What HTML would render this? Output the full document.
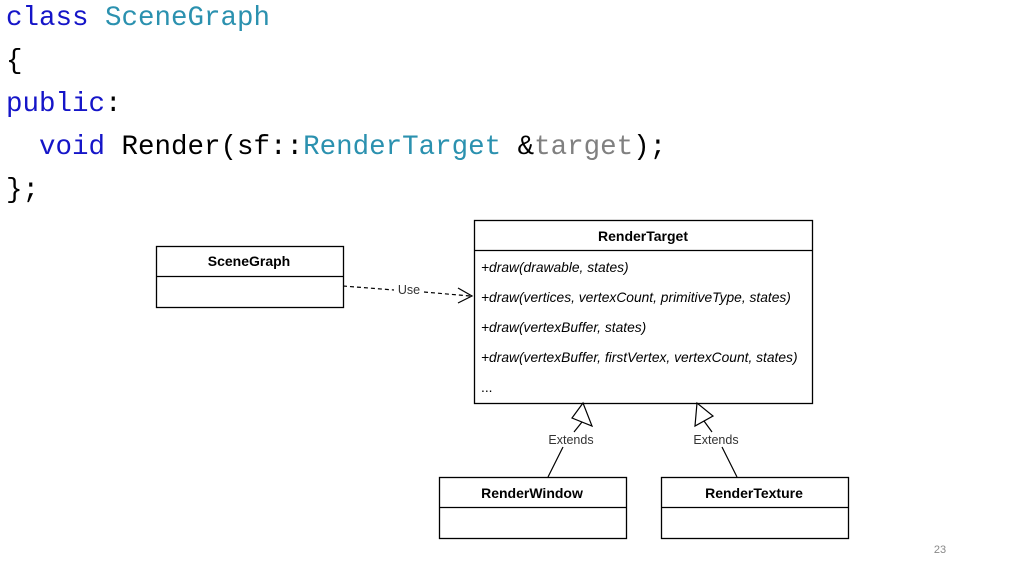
<!DOCTYPE html>
<html><head><meta charset="utf-8"><style>
body{margin:0;width:1024px;height:574px;background:#fff;overflow:hidden;position:relative;font-family:"Liberation Sans",sans-serif}
.code{position:absolute;left:6px;top:-3px;font-family:"Liberation Mono",monospace;font-size:27.5px;line-height:43px;color:#000;white-space:pre}
.k{color:#1515c8}.t{color:#2b91af}.g{color:#808080}
</style></head><body>
<div class="code"><span class="k">class</span> <span class="t">SceneGraph</span>
{
<span class="k">public</span>:
  <span class="k">void</span> Render(sf::<span class="t">RenderTarget</span> &amp;<span class="g">target</span>);
};</div>
<svg width="1024" height="574" style="position:absolute;left:0;top:0" font-family="Liberation Sans, sans-serif">
<g fill="#fff" stroke="#000" stroke-width="1.3">
<rect x="156.5" y="246.5" width="187" height="61"/><line x1="156" y1="276.5" x2="343" y2="276.5"/>
<rect x="474.5" y="220.5" width="338" height="183"/><line x1="474" y1="250.5" x2="812" y2="250.5"/>
<rect x="439.5" y="477.5" width="187" height="61"/><line x1="439" y1="507.5" x2="626" y2="507.5"/>
<rect x="661.5" y="477.5" width="187" height="61"/><line x1="661" y1="507.5" x2="848" y2="507.5"/>
</g>
<g font-size="14" font-weight="bold" text-anchor="middle" fill="#000">
<text x="249" y="266">SceneGraph</text>
<text x="643" y="241">RenderTarget</text>
<text x="532" y="498">RenderWindow</text>
<text x="754" y="498">RenderTexture</text>
</g>
<g font-size="13.8" font-style="italic" fill="#000">
<text x="481" y="272">+draw(drawable, states)</text>
<text x="481" y="302">+draw(vertices, vertexCount, primitiveType, states)</text>
<text x="481" y="332">+draw(vertexBuffer, states)</text>
<text x="481" y="362">+draw(vertexBuffer, firstVertex, vertexCount, states)</text>
<text x="481" y="392" font-style="normal">...</text>
</g>
<g stroke="#000" stroke-width="1.2" fill="none">
<path d="M343 286 L394 290 M424 292 L470 296" stroke-dasharray="4 3"/>
<path d="M458 288 L472 296 L458 303"/>
<path d="M583 403 L572 418 L592 426 Z" fill="#fff"/>
<path d="M582 422 L574 432 M563 447 L548 477"/>
<path d="M697 403 L695 426 L713 416 Z" fill="#fff"/>
<path d="M704 421 L712 432 M722 447 L737 477"/>
</g>
<g font-size="12.5" fill="#333" text-anchor="middle">
<text x="409" y="294">Use</text>
<text x="571" y="444">Extends</text>
<text x="716" y="444">Extends</text>
<text x="940" y="553" font-size="11" fill="#888">23</text>
</g>
</svg>
</body></html>
